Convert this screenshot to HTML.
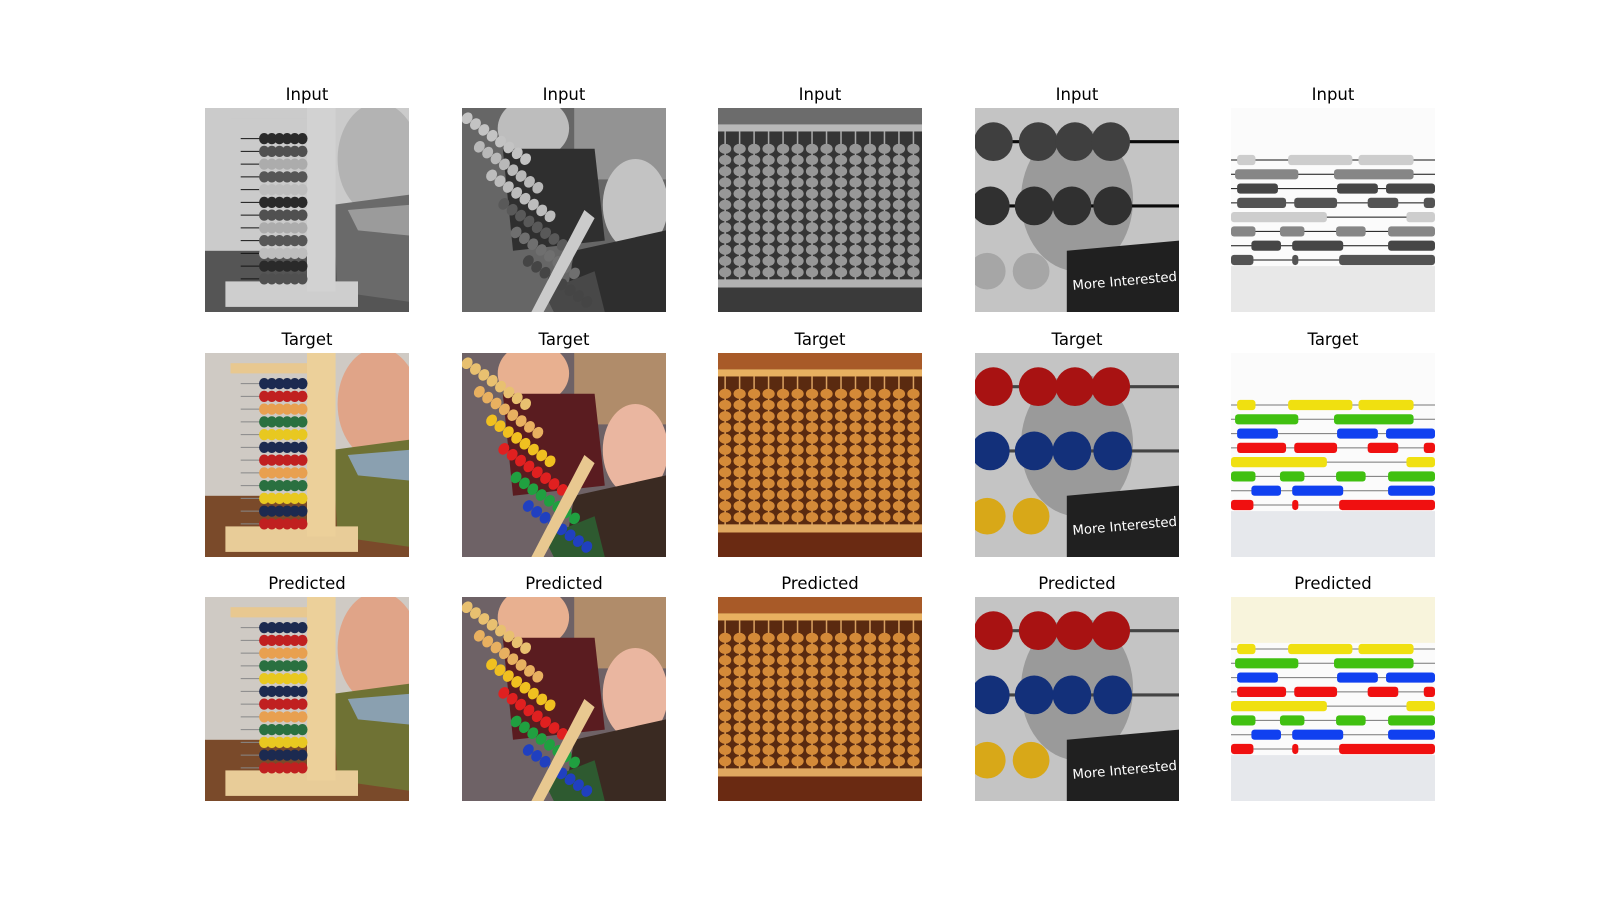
<!DOCTYPE html>
<html><head><meta charset="utf-8"><style>
body{margin:0;width:1600px;height:900px;background:#fff;overflow:hidden;position:relative;font-family:"DejaVu Sans","Liberation Sans",sans-serif}
.t{position:absolute;width:204px;text-align:center;font-size:16.5px;color:#000}
svg.im{position:absolute;width:204px;height:204px}
</style></head><body>
<script>
const colX=[205,462,718,975,1231];
const rowY=[108,353,597];
const rowTitles=['Input','Target','Predicted'];
const NS='http://www.w3.org/2000/svg';
function toGray(c){const n=parseInt(c.slice(1),16);const r=n>>16,g=(n>>8)&255,b=n&255;const l=Math.round(.299*r+.587*g+.114*b);const h=l.toString(16).padStart(2,'0');return '#'+h+h+h;}
function mk(svg,tag,attrs,gray){const e=document.createElementNS(NS,tag);for(const k in attrs){let v=attrs[k];if(gray&&(k==='fill'||k==='stroke')&&v[0]==='#')v=toGray(v);e.setAttribute(k,v);}svg.appendChild(e);return e;}
const R=(s,x,y,w,h,f,g,ex)=>mk(s,'rect',Object.assign({x,y,width:w,height:h,fill:f},ex||{}),g);
const C=(s,cx,cy,r,f,g)=>mk(s,'circle',{cx,cy,r,fill:f},g);
const E=(s,cx,cy,rx,ry,f,g)=>mk(s,'ellipse',{cx,cy,rx,ry,fill:f},g);
const P=(s,d,f,g)=>mk(s,'path',{d,fill:f},g);
function scene1(s,g){
 R(s,0,0,200,200,'#cfcac4',g);
 R(s,0,140,200,60,'#7a4a2a',g);
 E(s,170,50,40,55,'#e0a488',g);
 P(s,'M125 95 L200 85 L200 190 L130 180 Z','#6f7234',g);
 P(s,'M140 100 L200 95 L200 125 L150 120 Z','#8aa0b0',g);
 R(s,25,10,80,10,'#e8c890',g);
 R(s,20,170,130,25,'#e8cc98',g);
 R(s,100,0,28,180,'#ecd09a',g);
 const cols=['#1c2a50','#c02020','#e8a050','#2a7040','#e8c820'];
 for(let i=0;i<12;i++){const y=30+i*12.5;mk(s,'line',{x1:35,y1:y,x2:100,y2:y,stroke:'#888','stroke-width':1},g);
  for(let j=0;j<6;j++)E(s,58+j*7.5,y,5,5.5,cols[i%5],g);}
}
function scene2(s,g){
 R(s,0,0,200,200,'#6e6266',g);
 R(s,110,0,90,70,'#b08c6a',g);
 E(s,70,20,35,30,'#e8b090',g);
 P(s,'M40 40 L130 40 L140 130 L50 140 Z','#5a1c20',g);
 E(s,170,95,32,45,'#eab6a0',g);
 P(s,'M110 140 L200 120 L200 200 L100 200 Z','#3a2a22',g);
 P(s,'M80 180 L130 160 L140 200 L90 200 Z','#2e5a30',g);
 const cols=['#e8c070','#e8b060','#f0c020','#e02020','#20a040','#2040c0'];
 for(let k=0;k<6;k++){const gr=mk(s,'g',{transform:'translate('+(5+k*12)+','+(10+k*28)+') rotate(35)'},false);
  for(let j=0;j<8;j++)E(gr,j*10,0,5,6,cols[k],g);}
 P(s,'M120 100 L130 108 L80 200 L68 200 Z','#e8c890',g);
}
function scene3(s,g){
 R(s,0,0,200,200,'#5a2a10',g);
 R(s,0,0,200,16,'#a85a28',g);
 R(s,0,16,200,7,'#e8b060',g);
 for(let i=0;i<14;i++){mk(s,'line',{x1:7+i*14.2,y1:23,x2:7+i*14.2,y2:170,stroke:'#d8a060','stroke-width':1.5},g);
  for(let j=0;j<12;j++)E(s,7+i*14.2,40+j*11,6,5,'#d48a38',g);}
 R(s,0,168,200,8,'#e0a860',g);
 R(s,0,176,200,24,'#6a2a12',g);
}
function scene4(s,g){
 R(s,0,0,200,200,'#c4c4c4',g);
 E(s,100,90,55,70,'#9a9a9a',g);
 P(s,'M90 140 L200 130 L200 200 L90 200 Z','#202020',g);
 const tx=mk(s,'text',{x:96,y:178,fill:'#ffffff','font-size':13,transform:'rotate(-5 100 178)'},false);tx.textContent='More Interested Pup';
 mk(s,'line',{x1:0,y1:33,x2:200,y2:33,stroke:'#444','stroke-width':3},g);
 mk(s,'line',{x1:0,y1:96,x2:200,y2:96,stroke:'#444','stroke-width':3},g);
 [18,62,98,133].forEach(x=>C(s,x,33,19,'#a81212',g));
 [15,58,95,135].forEach(x=>C(s,x,96,19,'#13307a',g));
 [12,55].forEach(x=>C(s,x,160,18,'#d8a818',g));
}
const beadRows=[['#f0e010',[[6,24],[56,119],[125,179]]],['#40c010',[[4,66],[101,179]]],['#1040f0',[[6,46],[104,144],[152,200]]],['#f01010',[[6,54],[62,104],[134,164],[189,200]]],['#f0e010',[[0,94],[172,200]]],['#40c010',[[0,24],[48,72],[103,132],[154,200]]],['#1040f0',[[20,49],[60,110],[154,200]]],['#f01010',[[0,22],[60,66],[106,200]]]];
function scene5(s,g,pred){
 R(s,0,0,200,200,'#fbfbfb',g);
 if(pred)R(s,0,0,200,45,'#f8f4dc',g);
 R(s,0,155,200,45,'#e6e8ec',g);
 beadRows.forEach((r,i)=>{const y=51+i*14;mk(s,'line',{x1:0,y1:y,x2:200,y2:y,stroke:'#777','stroke-width':1},g);
  r[1].forEach(sg=>R(s,sg[0],y-5,sg[1]-sg[0],10,r[0],g,{rx:3}));});
}
const scenes=[scene1,scene2,scene3,scene4,scene5];
const names=['abacus-child','children-abacus','wooden-abacus','big-beads','colored-bead-rows'];
rowY.forEach((y,ri)=>{colX.forEach((x,ci)=>{
 const t=document.createElement('div');t.className='t';t.style.left=x+'px';t.style.top=(y-23)+'px';t.textContent=rowTitles[ri];
 
 
 document.body.appendChild(t);
 const s=document.createElementNS(NS,'svg');s.setAttribute('class','im');s.setAttribute('viewBox','0 0 200 200');
 s.style.left=x+'px';s.style.top=y+'px';
 
 
 scenes[ci](s,ri===0,ri===2);
 document.body.appendChild(s);
});});
</script>
</body></html>
